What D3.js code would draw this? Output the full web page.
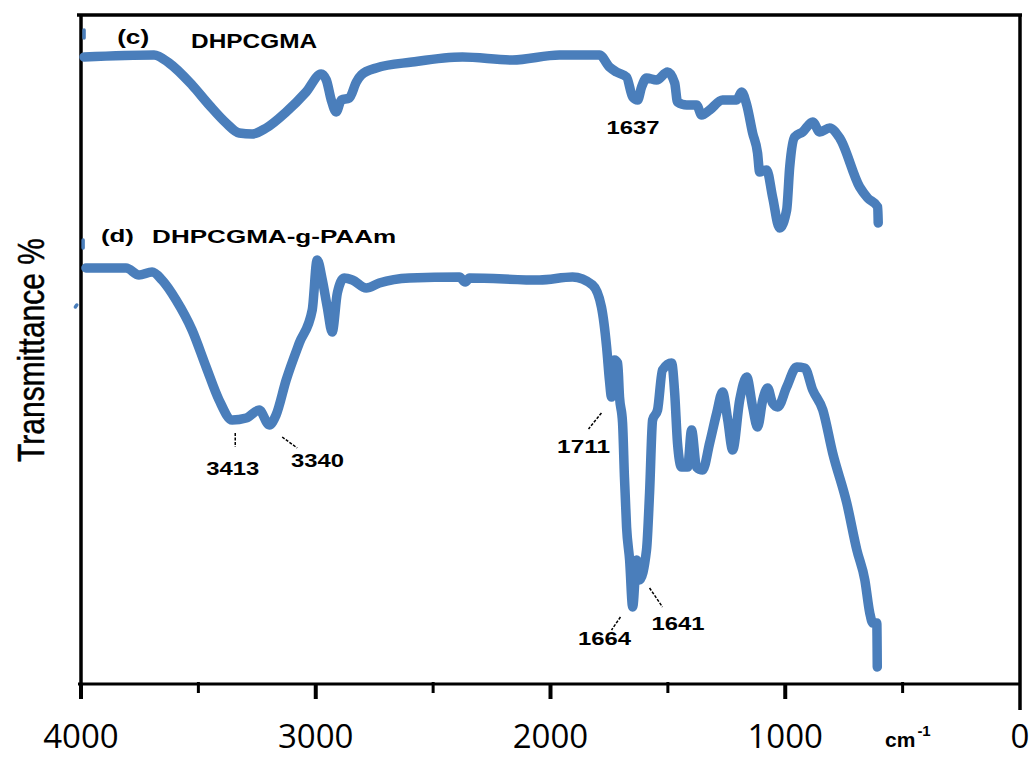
<!DOCTYPE html>
<html>
<head>
<meta charset="utf-8">
<script src="https://cdn.jsdelivr.net/npm/d3@7"></script>
<style>
  html, body { margin: 0; padding: 0; background: #ffffff; }
  svg { display: block; }
</style>
</head>
<body>
<div id="chart"></div>
<script>
// FTIR spectra: wavenumber (cm-1) vs. transmittance (arbitrary offset units)
const wavenumbersC = [3987, 3689, 3625, 3527, 3454, 3382, 3326, 3271, 3211, 3126, 3041, 2977, 2955, 2934, 2913, 2891, 2857, 2827, 2806, 2742, 2589, 2375, 2162, 1962, 1791, 1749, 1719, 1676, 1650, 1629, 1612, 1591, 1548, 1501, 1471, 1459, 1420, 1378, 1356, 1322, 1267, 1207, 1186, 1164, 1139, 1118, 1109, 1079, 1054, 1024, 994, 981, 960, 926, 883, 853, 811, 768, 683, 649, 606, 604];
const transmittanceC = [62.7, 62.9, 62.1, 59.9, 57.9, 56.1, 55.1, 55.0, 55.6, 57.2, 59.2, 61.0, 60.4, 58.4, 57.2, 58.4, 58.6, 60.2, 60.9, 61.6, 62.2, 62.7, 62.4, 62.9, 62.9, 61.7, 61.2, 60.7, 58.7, 58.4, 59.7, 60.6, 60.4, 61.2, 60.1, 58.2, 57.9, 57.9, 56.9, 57.4, 58.4, 58.4, 59.2, 57.9, 55.1, 53.1, 51.2, 51.4, 48.7, 45.6, 47.4, 51.7, 54.7, 55.2, 56.2, 55.2, 55.6, 54.6, 49.7, 48.6, 47.7, 46.1];

const wavenumbersD = [3979, 3808, 3753, 3697, 3655, 3595, 3527, 3467, 3412, 3356, 3296, 3241, 3198, 3169, 3126, 3070, 3015, 2994, 2972, 2951, 2930, 2908, 2879, 2844, 2785, 2729, 2601, 2388, 2363, 2345, 2047, 1906, 1821, 1783, 1761, 1749, 1740, 1727, 1714, 1706, 1693, 1685, 1676, 1663, 1650, 1633, 1621, 1591, 1578, 1565, 1544, 1523, 1484, 1471, 1459, 1442, 1416, 1399, 1378, 1352, 1322, 1292, 1267, 1245, 1224, 1194, 1164, 1139, 1118, 1096, 1075, 1054, 1032, 994, 951, 917, 883, 840, 798, 738, 695, 661, 640, 627, 610, 608];
const transmittanceD = [41.6, 41.6, 40.9, 41.2, 40.4, 38.4, 35.4, 31.7, 28.4, 26.4, 26.6, 27.4, 25.9, 26.9, 30.4, 34.1, 37.4, 42.4, 40.4, 37.7, 35.2, 39.1, 40.6, 40.4, 39.6, 40.1, 40.6, 40.7, 40.2, 40.6, 40.4, 40.7, 39.9, 37.7, 33.7, 30.4, 28.7, 32.4, 32.1, 28.7, 26.1, 20.7, 15.7, 12.4, 7.7, 12.4, 10.4, 13.4, 19.1, 26.4, 27.4, 31.4, 32.1, 29.1, 24.1, 21.7, 21.7, 25.4, 21.7, 21.4, 24.1, 27.1, 29.2, 26.4, 23.4, 28.4, 30.7, 27.7, 25.7, 28.4, 29.6, 28.1, 27.7, 29.7, 31.7, 31.6, 29.4, 27.4, 23.1, 18.1, 13.4, 10.4, 7.1, 6.1, 6.1, 1.7];

// x-axis ticks
const majorTicks = [4000, 3000, 2000, 1000, 0];
const minorTicks = [3500, 2500, 1500, 500];
const tickLabels = ["4000", "3000", "2000", "1000", "0"];

// sample names: text, wavenumber at left edge, baseline value, width
const seriesTags = ["(c)", "DHPCGMA", "(d)", "DHPCGMA-g-PAAm"];
const seriesTagX = [3846, 3531, 3915, 3697];
const seriesTagY = [64.0, 63.6, 44.2, 44.1];
const seriesTagWidth = [32, 126, 33, 244];
const seriesTagSize = [20, 21, 19, 19];

// band assignments: label, centre wavenumber, baseline value
const bandLabels = ["1637", "3413", "3340", "1711", "1664", "1641"];
const bandLabelX = [1648, 3354, 2992, 1859, 1770, 1457];
const bandLabelY = [55.0, 20.9, 21.7, 23.1, 3.9, 5.4];
// leader lines from label to band: [w1, v1, w2, v2]
const leaders = [
  null,
  [3343, 25.1, 3343, 23.7],
  [3143, 24.7, 3079, 23.6],
  [1783, 27.1, 1838, 25.5],
  [1702, 6.7, 1740, 5.4],
  [1578, 9.6, 1523, 7.7]
];
// short stray marks along the left axis
const stubMarks = [[3987, 65.4, 3987, 64.6], [3991, 44.4, 3991, 43.6], [4018, 37.9, 4024, 37.7]];

const W = 1034, H = 758;
const svg = d3.select("#chart").append("svg")
  .attr("width", W).attr("height", H)
  .style("background", "#ffffff");

const x = d3.scaleLinear().domain([4000, 0]).range([81, 1020]);
const y = d3.scaleLinear().domain([0, 67]).range([684, 14]);

const blue = "#4a7ebb";

// frame
const frame = svg.append("g").attr("stroke", "#000").attr("fill", "none");
frame.append("line").attr("x1", x(4000) - 4).attr("x2", x(0) + 2)
  .attr("y1", y(67) + 1).attr("y2", y(67) + 1).attr("stroke-width", 3.5);
frame.append("line").attr("x1", x(4000)).attr("x2", x(4000))
  .attr("y1", y(67)).attr("y2", y(0)).attr("stroke-width", 3.5);
frame.append("line").attr("x1", x(0)).attr("x2", x(0))
  .attr("y1", y(67)).attr("y2", y(0) + 26).attr("stroke-width", 3.5);

// x axis
const xAxis = svg.append("g").attr("transform", `translate(0,${y(0)})`);
xAxis.append("line").attr("x1", x(4000) - 3).attr("x2", x(0))
  .attr("stroke", "#000").attr("stroke-width", 3);
xAxis.selectAll("line.major").data(majorTicks.slice(0, 4)).enter().append("line")
  .attr("class", "major")
  .attr("x1", d => x(d)).attr("x2", d => x(d))
  .attr("y1", 0).attr("y2", 15)
  .attr("stroke", "#000").attr("stroke-width", 4);
xAxis.selectAll("line.minor").data(minorTicks).enter().append("line")
  .attr("class", "minor")
  .attr("x1", d => x(d)).attr("x2", d => x(d))
  .attr("y1", -2).attr("y2", 9)
  .attr("stroke", "#000").attr("stroke-width", 3);
xAxis.selectAll("text.tick").data(majorTicks).enter().append("text")
  .attr("class", "tick")
  .attr("x", d => x(d)).attr("y", 64)
  .attr("text-anchor", "middle")
  .attr("font-family", "'Open Sans', 'DejaVu Sans', sans-serif")
  .attr("font-size", 33)
  .attr("fill", "#000")
  .text((d, i) => tickLabels[i]);

// unit label
const unit = svg.append("text")
  .attr("x", x(575)).attr("y", y(0) + 63)
  .attr("font-family", "'Liberation Sans', Arial, sans-serif")
  .attr("font-weight", "bold").attr("font-size", 21).attr("fill", "#000");
unit.append("tspan").text("cm");
unit.append("tspan").attr("dy", -11).attr("dx", 2).attr("font-size", 15).text("-1");

// y axis title
svg.append("text")
  .attr("transform", `translate(44,350) rotate(-90) scale(1,1.25)`)
  .attr("text-anchor", "middle")
  .attr("font-family", "'Liberation Sans', Arial, sans-serif")
  .attr("font-size", 30).attr("fill", "#000")
  .attr("stroke", "#000").attr("stroke-width", 0.4)
  .text("Transmittance %");

// stray left-axis marks
svg.selectAll("line.stub").data(stubMarks).enter().append("line")
  .attr("class", "stub")
  .attr("x1", d => x(d[0])).attr("y1", d => y(d[1]))
  .attr("x2", d => x(d[2])).attr("y2", d => y(d[3]))
  .attr("stroke", blue).attr("stroke-width", 3.5).attr("stroke-linecap", "round");

// spectra
const line = d3.line().x(d => x(d[0])).y(d => y(d[1])).curve(d3.curveMonotoneX);
const spectra = [
  d3.zip(wavenumbersC, transmittanceC),
  d3.zip(wavenumbersD, transmittanceD)
];
svg.selectAll("path.spectrum").data(spectra).enter().append("path")
  .attr("class", "spectrum")
  .attr("d", line)
  .attr("fill", "none")
  .attr("stroke", blue)
  .attr("stroke-width", 9.5)
  .attr("stroke-linejoin", "round")
  .attr("stroke-linecap", "round");

// sample names
svg.selectAll("text.tag").data(seriesTags).enter().append("text")
  .attr("class", "tag")
  .attr("x", (d, i) => x(seriesTagX[i]))
  .attr("y", (d, i) => y(seriesTagY[i]))
  .attr("textLength", (d, i) => seriesTagWidth[i])
  .attr("lengthAdjust", "spacingAndGlyphs")
  .attr("font-family", "'Liberation Sans', Arial, sans-serif")
  .attr("font-weight", "bold")
  .attr("font-size", (d, i) => seriesTagSize[i])
  .attr("fill", "#000")
  .text(d => d);

// band labels and leaders
svg.selectAll("text.band").data(bandLabels).enter().append("text")
  .attr("class", "band")
  .attr("x", (d, i) => x(bandLabelX[i]))
  .attr("y", (d, i) => y(bandLabelY[i]))
  .attr("text-anchor", "middle")
  .attr("textLength", 53)
  .attr("lengthAdjust", "spacingAndGlyphs")
  .attr("font-family", "'Liberation Sans', Arial, sans-serif")
  .attr("font-weight", "bold")
  .attr("font-size", 19)
  .attr("fill", "#000")
  .text(d => d);

svg.selectAll("line.leader").data(leaders.filter(d => d)).enter().append("line")
  .attr("class", "leader")
  .attr("x1", d => x(d[0])).attr("y1", d => y(d[1]))
  .attr("x2", d => x(d[2])).attr("y2", d => y(d[3]))
  .attr("stroke", "#000").attr("stroke-width", 1.5)
  .attr("stroke-dasharray", "3,1.5");
</script>
</body>
</html>
